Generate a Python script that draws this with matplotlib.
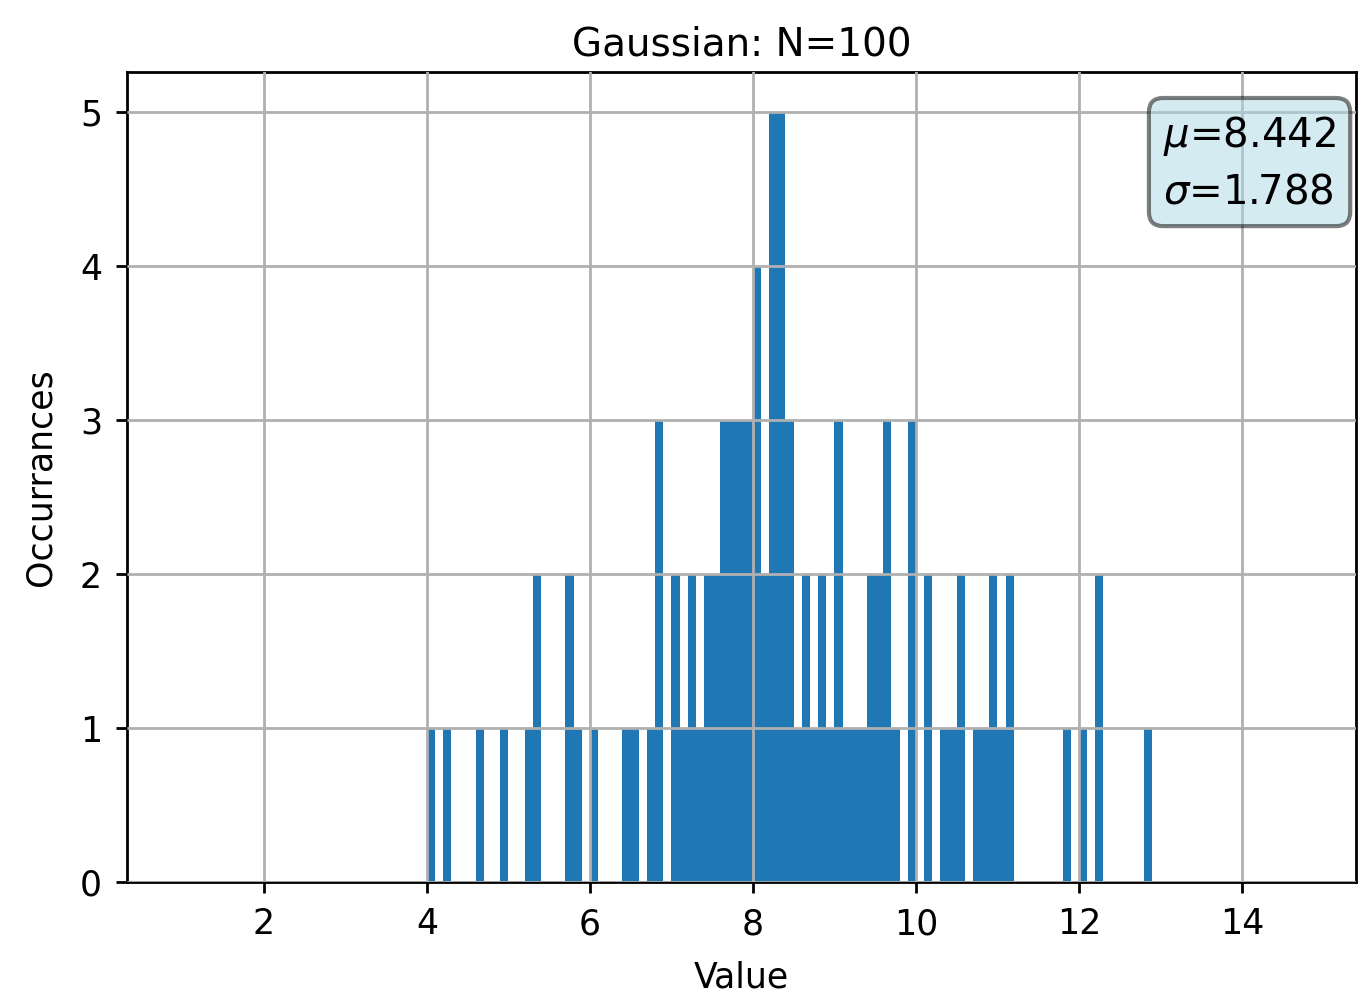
import numpy as np
import matplotlib
matplotlib.use("Agg")
import matplotlib.pyplot as plt

# Histogram of 100 Gaussian samples, 0.1-wide bins starting at 4.0
bin_start = 4.0
bin_width = 0.1
counts = [1, 0, 1, 0, 0, 0, 1, 0, 0, 1,
          0, 0, 1, 2, 0, 0, 0, 2, 1, 0,
          1, 0, 0, 0, 1, 1, 0, 1, 3, 0,
          2, 1, 2, 1, 2, 2, 3, 3, 3, 3,
          4, 2, 5, 5, 3, 1, 2, 1, 2, 1,
          3, 1, 1, 1, 2, 2, 3, 1, 0, 3,
          0, 2, 0, 1, 1, 2, 0, 1, 1, 2,
          1, 2, 0, 0, 0, 0, 0, 0, 1, 0,
          1, 0, 2, 0, 0, 0, 0, 0, 1]
mu = 8.442
sigma = 1.788
n_samples = 100

edges = bin_start + bin_width * np.arange(len(counts) + 1)
lefts = edges[:-1]

plt.rcParams['font.family'] = ['DejaVu Sans']
fig = plt.figure(figsize=(13.58, 9.98), dpi=100)
ax = fig.add_axes([0.0935, 0.1162, 0.905, 0.8117])

ax.hist(lefts, bins=edges, weights=counts, color='#1f77b4')

ax.set_xlim(0.32, 15.4)
ax.set_ylim(0, 5.26)
ax.set_xticks([2, 4, 6, 8, 10, 12, 14])
ax.set_yticks([0, 1, 2, 3, 4, 5])
ax.grid(True, color='#b0b0b0', linewidth=2)
ax.set_axisbelow(False)

ax.tick_params(labelsize=25, length=8, width=2, pad=10)
for s in ax.spines.values():
    s.set_linewidth(2)

ax.set_title(f'Gaussian: N={n_samples}', fontsize=28, pad=12)
ax.set_xlabel('Value', fontsize=25, labelpad=14)
ax.set_ylabel('Occurrances', fontsize=25, labelpad=16)

ax.text(0.843, 0.948, f'$\\mu$={mu:.3f}\n$\\sigma$={sigma:.3f}',
        transform=ax.transAxes, ha='left', va='top', fontsize=29,
        linespacing=1.45,
        bbox=dict(boxstyle='round,pad=0.35', facecolor='lightblue',
                  alpha=0.5, edgecolor='black', linewidth=3))

fig.savefig('out.png', dpi=100)
